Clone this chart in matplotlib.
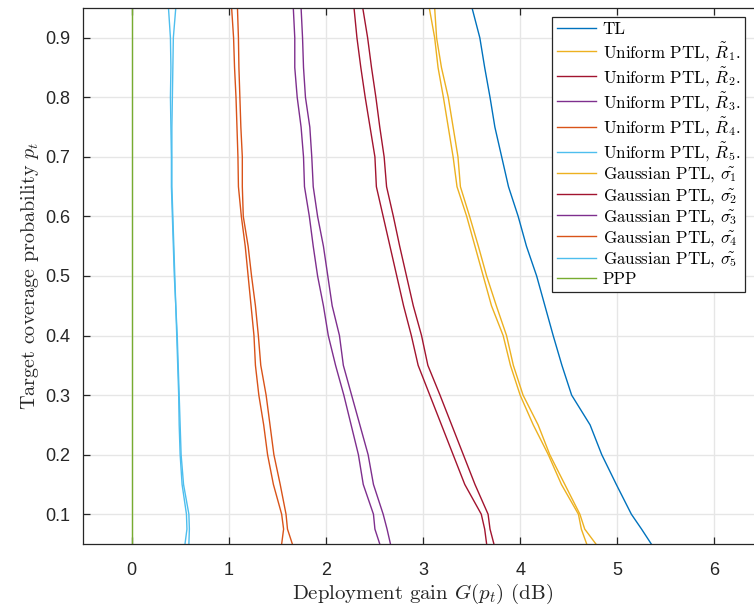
import numpy as np
import matplotlib
matplotlib.use("Agg")
import matplotlib.pyplot as plt

plt.rcParams['font.family'] = ['Liberation Sans', 'DejaVu Sans']
plt.rcParams['mathtext.fontset'] = 'cm'
plt.rcParams['axes.unicode_minus'] = False

# target coverage probabilities at which the gains are read
p_t = [0.95, 0.9, 0.85, 0.8, 0.75, 0.7, 0.65, 0.6, 0.55, 0.5,
       0.45, 0.4, 0.35, 0.3, 0.25, 0.2, 0.15, 0.1, 0.075, 0.05]

# deployment gain G(p_t) in dB for each model
g_tl = [3.505, 3.585, 3.635, 3.69, 3.74, 3.81, 3.88, 3.98, 4.065, 4.17,
        4.255, 4.34, 4.43, 4.53, 4.72, 4.84, 4.99, 5.145, 5.25, 5.35]

g_unif_1 = [3.065, 3.12, 3.155, 3.21, 3.26, 3.31, 3.35, 3.45, 3.535, 3.62,
            3.705, 3.825, 3.90, 4.00, 4.135, 4.29, 4.425, 4.60, 4.63, 4.685]
g_unif_2 = [2.29, 2.32, 2.36, 2.405, 2.455, 2.505, 2.52, 2.59, 2.66, 2.73,
            2.80, 2.88, 2.95, 3.07, 3.19, 3.31, 3.43, 3.60, 3.635, 3.655]
g_unif_3 = [1.665, 1.68, 1.68, 1.705, 1.745, 1.77, 1.78, 1.83, 1.87, 1.915,
            1.975, 2.025, 2.10, 2.185, 2.26, 2.335, 2.385, 2.49, 2.505, 2.555]
g_unif_4 = [1.03, 1.05, 1.06, 1.075, 1.085, 1.095, 1.10, 1.13, 1.17, 1.20,
            1.23, 1.26, 1.275, 1.31, 1.36, 1.40, 1.46, 1.545, 1.565, 1.545]
g_unif_5 = [0.38, 0.40, 0.405, 0.40, 0.405, 0.41, 0.41, 0.42, 0.43, 0.44,
            0.455, 0.465, 0.475, 0.485, 0.49, 0.50, 0.52, 0.565, 0.57, 0.55]

g_gauss_1 = [3.12, 3.14, 3.19, 3.26, 3.31, 3.36, 3.385, 3.48, 3.57, 3.655,
             3.755, 3.86, 3.93, 4.03, 4.185, 4.305, 4.46, 4.615, 4.665, 4.78]
g_gauss_2 = [2.38, 2.43, 2.47, 2.515, 2.555, 2.60, 2.625, 2.695, 2.76, 2.83,
             2.90, 2.985, 3.05, 3.175, 3.295, 3.415, 3.535, 3.67, 3.69, 3.73]
g_gauss_3 = [1.745, 1.76, 1.77, 1.79, 1.835, 1.855, 1.87, 1.915, 1.975, 2.02,
             2.065, 2.14, 2.18, 2.265, 2.35, 2.435, 2.49, 2.59, 2.63, 2.665]
g_gauss_4 = [1.09, 1.10, 1.105, 1.115, 1.125, 1.14, 1.14, 1.15, 1.20, 1.235,
             1.275, 1.305, 1.33, 1.385, 1.425, 1.465, 1.53, 1.59, 1.605, 1.655]
g_gauss_5 = [0.455, 0.43, 0.425, 0.42, 0.415, 0.415, 0.415, 0.425, 0.435, 0.445,
             0.455, 0.47, 0.48, 0.49, 0.50, 0.51, 0.535, 0.59, 0.595, 0.59]

g_ppp = [0.0] * len(p_t)

# matlab default colour order
c_blue = '#0072BD'
c_orange = '#D95319'
c_yellow = '#EDB120'
c_purple = '#7E2F8E'
c_green = '#77AC30'
c_cyan = '#4DBEEE'
c_red = '#A2142F'

curves = [
    (g_tl, c_blue, r'TL'),
    (g_unif_1, c_yellow, r'Uniform PTL, $\tilde{R}_1$.'),
    (g_unif_2, c_red, r'Uniform PTL, $\tilde{R}_2$.'),
    (g_unif_3, c_purple, r'Uniform PTL, $\tilde{R}_3$.'),
    (g_unif_4, c_orange, r'Uniform PTL, $\tilde{R}_4$.'),
    (g_unif_5, c_cyan, r'Uniform PTL, $\tilde{R}_5$.'),
    (g_gauss_1, c_yellow, r'Gaussian PTL, $\tilde{\sigma_1}$'),
    (g_gauss_2, c_red, r'Gaussian PTL, $\tilde{\sigma_2}$'),
    (g_gauss_3, c_purple, r'Gaussian PTL, $\tilde{\sigma_3}$'),
    (g_gauss_4, c_orange, r'Gaussian PTL, $\tilde{\sigma_4}$'),
    (g_gauss_5, c_cyan, r'Gaussian PTL, $\tilde{\sigma_5}$'),
    (g_ppp, c_green, r'PPP'),
]

fig = plt.figure(figsize=(7.54, 6.08), dpi=100)
ax = fig.add_axes([83 / 754, 64 / 608, 680 / 754, 536 / 608])

for g, col, lab in curves:
    ax.plot(g, p_t, color=col, lw=1.0, label=lab)

ax.set_xlim(-0.5, 6.5)
ax.set_ylim(0.05, 0.95)
ax.set_xticks(np.arange(0, 7))
ax.set_yticks(np.round(np.arange(0.1, 0.95, 0.1), 1))
ax.grid(True, color='#e6e6e6', lw=1.0)
ax.set_axisbelow(True)

for s in ax.spines.values():
    s.set_color('#262626')
    s.set_linewidth(0.9)
ax.tick_params(direction='in', length=5, width=0.9, color='#262626',
               top=True, right=True, labelsize=13, labelcolor='#262626')
ax.tick_params(axis='x', pad=13)
ax.tick_params(axis='y', pad=9)

ax.set_xlabel(r'Deployment gain $G(p_t)$ (dB)', fontfamily='cmr10',
              fontsize=15, color='#262626', labelpad=2)
ax.set_ylabel(r'Target coverage probability $p_t$', fontfamily='cmr10',
              fontsize=14.5, color='#262626', labelpad=3)

leg = ax.legend(loc='upper right', bbox_to_anchor=(745 / 754, 1 - 17 / 608),
                bbox_transform=fig.transFigure, borderaxespad=0,
                prop={'family': 'cmr10', 'size': 12.2}, fancybox=False,
                framealpha=1, edgecolor='#262626', handlelength=2.3,
                handletextpad=0.4, labelspacing=0.13, borderpad=0.3)
leg.get_frame().set_linewidth(0.9)

fig.savefig('out.png', dpi=100)
